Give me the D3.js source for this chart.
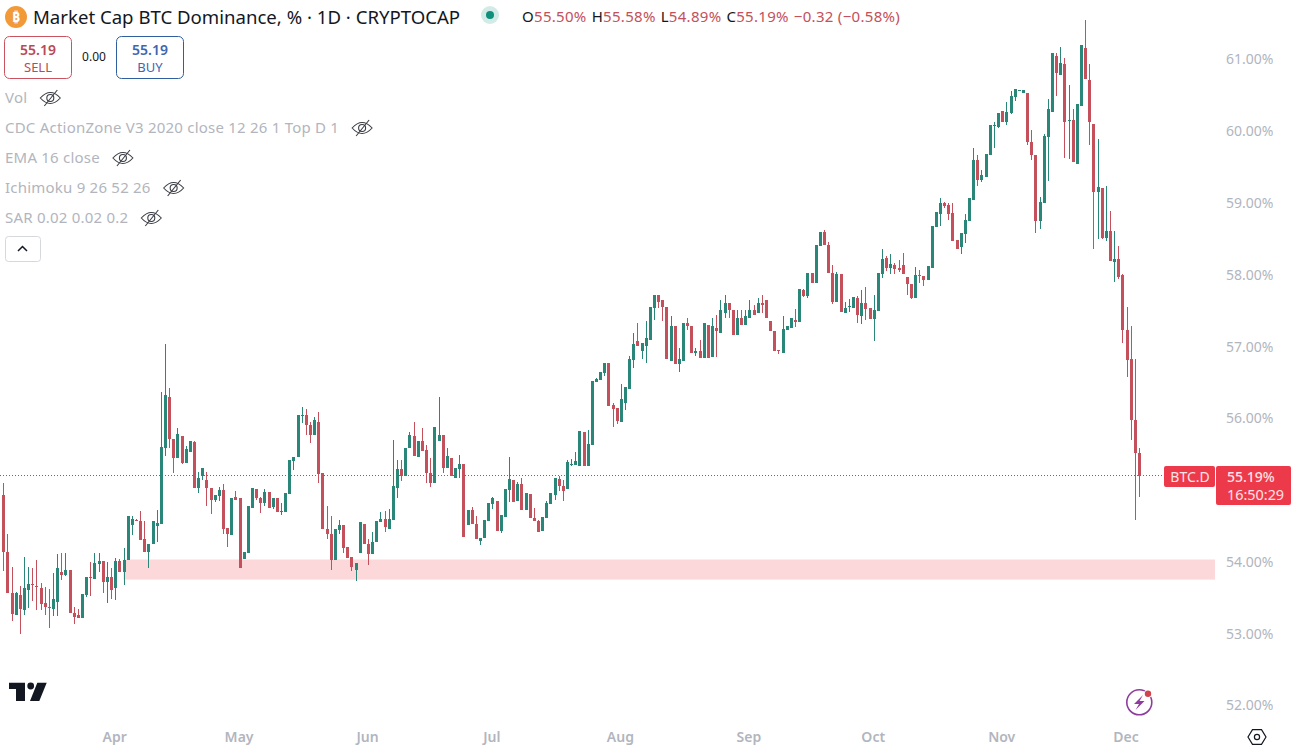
<!DOCTYPE html>
<html>
<head>
<meta charset="utf-8">
<script src="https://cdn.jsdelivr.net/npm/d3@7"></script>
<style>
  html, body { margin: 0; padding: 0; background: #fff; overflow: hidden; }
  svg { display: block; }
  text { font-family: "Noto Sans", "Open Sans", sans-serif; }
</style>
</head>
<body>
<svg width="1295" height="753"></svg>
<script>
const svg = d3.select("svg");

const symbolTitle = "Market Cap BTC Dominance, % · 1D · CRYPTOCAP";
const indicators = ["Vol", "CDC ActionZone V3 2020 close 12 26 1 Top D 1", "EMA 16 close", "Ichimoku 9 26 52 26", "SAR 0.02 0.02 0.2"];
const priceTicks = [52, 53, 54, 56, 57, 58, 59, 60, 61];
const firstDay = new Date(Date.UTC(2024, 2, 5));

const opens = [
  54.92,54.13,53.56,53.25,53.53,53.32,53.60,53.68,53.65,53.63,
  53.41,53.36,53.33,53.43,53.85,53.80,53.88,53.27,53.24,53.21,
  53.52,53.77,53.75,53.96,54.00,53.70,53.77,53.62,54.00,53.84,
  54.01,54.50,54.57,54.56,54.31,54.12,54.23,54.49,54.52,55.57,
  56.29,55.70,55.43,55.74,55.36,55.52,55.66,55.02,55.19,55.13,
  55.02,54.85,54.91,54.99,54.46,54.36,54.89,54.87,54.03,54.11,
  54.74,55.00,54.88,54.81,54.96,54.75,54.87,54.69,54.68,54.93,
  55.39,55.45,56.02,56.03,55.89,55.75,55.93,55.22,54.45,54.38,
  54.02,54.43,54.50,54.19,54.05,53.88,54.11,54.52,54.23,54.09,
  54.26,54.54,54.58,54.45,54.57,55.02,55.28,55.19,55.57,55.74,
  55.45,55.67,55.54,55.23,55.08,55.67,55.75,55.29,55.44,55.16,
  55.28,55.35,54.50,54.71,54.52,54.28,54.32,54.56,54.80,54.84,
  54.42,54.61,54.99,55.13,54.84,55.07,54.71,54.93,54.60,54.55,
  54.42,54.60,54.80,54.92,55.14,55.05,55.00,55.34,55.34,55.32,
  55.80,55.32,55.62,56.50,56.52,56.62,56.76,56.17,56.13,55.93,
  56.20,56.40,56.80,57.07,56.93,57.00,57.08,57.52,57.71,57.63,
  57.54,56.79,57.28,56.74,56.79,57.31,57.28,56.90,56.92,56.83,
  57.29,56.84,57.25,57.18,57.46,57.59,57.50,57.15,57.38,57.29,
  57.39,57.49,57.46,57.60,57.64,57.34,57.21,56.94,56.90,57.22,
  57.25,57.36,57.33,57.78,57.69,58.01,57.87,58.39,58.58,58.40,
  58.01,57.61,58.00,57.46,57.54,57.53,57.67,57.41,57.60,57.53,
  57.37,57.48,58.00,58.22,58.08,58.13,58.08,58.13,57.96,57.86,
  57.67,57.98,57.97,57.92,58.08,58.65,58.84,58.99,58.96,58.85,
  58.47,58.37,58.56,58.74,59.03,59.58,59.31,59.35,59.66,60.07,
  60.04,60.27,60.11,60.24,60.47,60.55,60.52,60.52,59.83,59.65,
  58.74,58.99,59.90,60.26,61.03,60.77,60.93,60.14,60.15,59.53,
  60.34,61.14,60.70,60.09,59.14,59.20,58.50,58.59,58.16,58.20,
  57.98,57.22,56.81,55.97,55.50
];
const highs = [
  55.08,54.38,53.91,53.57,53.65,54.05,53.91,53.90,54.02,53.69,
  53.64,53.61,53.83,54.10,54.11,54.11,53.88,53.36,53.33,53.54,
  53.77,53.99,54.11,54.11,54.00,53.98,53.90,54.04,54.03,54.18,
  54.62,54.63,54.58,54.69,54.55,54.24,54.56,54.71,56.36,57.02,
  56.41,55.70,55.85,55.74,55.60,55.67,55.67,55.24,55.30,55.24,
  55.02,54.92,55.03,55.07,54.46,54.88,54.98,54.87,54.13,54.77,
  55.02,55.00,54.89,55.00,54.96,54.87,54.87,54.81,54.95,55.41,
  55.45,56.04,56.14,56.11,55.94,56.00,56.08,55.22,54.76,54.63,
  54.44,54.57,54.50,54.19,54.05,53.97,54.54,54.52,54.30,54.40,
  54.56,54.68,54.70,54.72,55.69,55.40,55.40,55.58,55.79,55.94,
  55.67,55.85,55.62,55.43,55.86,56.29,55.76,55.58,55.44,55.30,
  55.47,55.35,54.71,54.75,54.62,54.32,54.57,54.81,54.89,54.84,
  54.64,55.00,55.45,55.13,55.10,55.16,54.95,54.93,54.74,54.57,
  54.61,54.84,54.95,55.16,55.19,55.13,55.41,55.42,55.52,55.81,
  55.80,55.83,56.51,56.55,56.63,56.76,56.76,56.20,56.13,56.47,
  56.43,56.86,57.18,57.32,57.04,57.34,57.54,57.71,57.71,57.63,
  57.54,57.41,57.28,56.96,57.32,57.39,57.28,56.97,57.08,57.31,
  57.29,57.38,57.43,57.63,57.71,57.59,57.50,57.49,57.49,57.49,
  57.64,57.56,57.66,57.70,57.64,57.34,57.21,56.94,57.41,57.28,
  57.39,57.51,57.79,57.79,58.01,58.01,58.40,58.58,58.61,58.45,
  58.13,58.03,58.00,57.61,57.65,57.68,57.69,57.78,57.82,57.53,
  57.71,58.01,58.35,58.25,58.28,58.15,58.19,58.29,57.96,57.86,
  58.09,58.06,57.97,58.11,58.67,58.86,59.05,59.00,58.99,58.98,
  58.47,58.57,58.84,59.05,59.76,59.66,59.44,59.67,60.08,60.12,
  60.24,60.27,60.40,60.55,60.58,60.56,60.56,60.52,60.01,59.65,
  59.07,59.95,60.43,61.07,61.08,61.16,61.01,60.63,60.29,60.37,
  61.19,61.54,60.93,60.09,59.88,59.20,59.23,58.88,58.59,58.39,
  58.00,57.54,57.28,56.81,55.58
];
const lows = [
  53.86,53.56,53.17,53.25,52.98,53.25,53.34,53.44,53.32,53.31,
  53.25,53.06,53.23,53.23,53.73,53.79,53.28,53.12,53.21,53.21,
  53.50,53.51,53.75,53.85,53.56,53.42,53.47,53.45,53.84,53.67,
  54.01,54.36,54.55,54.29,54.12,53.90,54.23,54.26,54.52,55.46,
  55.57,55.23,55.43,55.35,55.36,55.52,55.02,54.95,55.13,54.76,
  54.66,54.82,54.84,54.38,54.20,54.36,54.85,53.90,54.03,54.11,
  54.74,54.85,54.67,54.77,54.74,54.73,54.68,54.64,54.68,54.93,
  55.27,55.45,55.92,55.75,55.64,55.75,55.09,54.44,54.31,53.88,
  54.02,54.38,54.11,54.04,53.86,53.72,54.11,54.23,53.95,54.09,
  54.26,54.54,54.41,54.44,54.57,54.87,55.11,55.19,55.57,55.46,
  55.45,55.53,55.09,55.03,55.08,55.67,55.23,55.29,55.18,55.16,
  55.16,54.34,54.50,54.52,54.30,54.22,54.32,54.56,54.73,54.42,
  54.39,54.61,54.82,54.82,54.84,54.71,54.71,54.60,54.55,54.41,
  54.42,54.60,54.80,54.85,54.98,54.84,55.00,55.32,55.34,55.32,
  55.32,55.32,55.62,56.49,56.52,56.57,56.16,55.87,55.91,55.93,
  56.10,56.40,56.69,56.99,56.82,56.76,57.08,57.35,57.53,57.34,
  56.81,56.79,56.75,56.63,56.79,57.22,56.90,56.86,56.83,56.83,
  56.83,56.84,56.84,57.18,57.39,57.38,57.15,57.15,57.29,57.29,
  57.39,57.42,57.46,57.45,57.38,57.21,56.92,56.88,56.90,57.22,
  57.25,57.26,57.33,57.68,57.67,57.87,57.87,58.39,58.40,58.01,
  57.58,57.61,57.47,57.46,57.47,57.53,57.32,57.30,57.35,57.37,
  57.07,57.48,57.94,58.04,58.00,58.00,58.03,58.00,57.71,57.65,
  57.67,57.87,57.83,57.92,58.08,58.65,58.67,58.92,58.75,58.46,
  58.35,58.28,58.43,58.74,59.03,59.23,59.28,59.35,59.66,59.76,
  60.03,60.11,60.08,60.22,60.41,60.55,60.52,59.80,59.58,58.57,
  58.62,58.99,59.30,60.26,60.48,60.77,59.62,59.60,59.56,59.53,
  60.34,60.72,59.80,58.35,58.48,58.49,58.46,58.18,57.89,57.93,
  57.03,56.56,55.68,54.57,54.89
];
const closes = [
  54.13,53.56,53.26,53.56,53.33,53.63,53.68,53.67,53.64,53.40,
  53.36,53.34,53.47,53.90,53.81,53.88,53.28,53.22,53.21,53.54,
  53.77,53.76,53.97,54.00,53.70,53.77,53.59,54.00,53.84,54.02,
  54.62,54.58,54.56,54.29,54.12,54.24,54.56,54.53,55.59,56.31,
  55.70,55.44,55.77,55.37,55.56,55.67,55.02,55.16,55.30,55.01,
  54.85,54.92,54.99,54.45,54.38,54.88,54.85,53.90,54.13,54.77,
  55.02,54.87,54.81,54.96,54.74,54.87,54.68,54.70,54.95,55.41,
  55.45,56.04,56.03,55.89,55.75,55.96,55.21,54.44,54.37,54.02,
  54.44,54.50,54.18,54.04,53.91,53.97,54.54,54.23,54.09,54.27,
  54.55,54.58,54.47,54.59,55.04,55.28,55.18,55.58,55.76,55.46,
  55.67,55.53,55.22,55.08,55.86,55.76,55.30,55.46,55.18,55.30,
  55.35,54.34,54.71,54.52,54.30,54.32,54.57,54.81,54.88,54.42,
  54.64,55.00,55.14,54.82,55.07,54.71,54.95,54.60,54.55,54.41,
  54.61,54.81,54.95,55.16,55.05,54.98,55.38,55.35,55.39,55.81,
  55.32,55.63,56.51,56.54,56.63,56.76,56.16,56.12,55.95,56.25,
  56.42,56.81,57.02,57.00,57.04,57.11,57.54,57.71,57.61,57.54,
  56.81,57.28,56.75,56.82,57.32,57.27,56.90,56.93,56.83,57.31,
  56.83,57.27,57.20,57.49,57.59,57.49,57.15,57.38,57.29,57.41,
  57.49,57.43,57.60,57.57,57.38,57.21,56.92,56.93,57.23,57.28,
  57.39,57.33,57.79,57.69,58.01,57.87,58.40,58.58,58.40,58.01,
  57.61,58.00,57.47,57.53,57.55,57.68,57.43,57.60,57.51,57.37,
  57.50,58.01,58.21,58.08,58.14,58.07,58.06,58.00,57.86,57.67,
  57.99,57.97,57.92,58.11,58.67,58.86,58.99,58.95,58.84,58.46,
  58.35,58.57,58.75,59.05,59.58,59.31,59.37,59.67,60.08,60.08,
  60.24,60.11,60.26,60.48,60.57,60.56,60.56,59.84,59.66,58.74,
  59.00,59.92,60.30,61.07,60.80,60.94,60.12,60.15,59.56,60.37,
  61.19,60.72,60.12,59.14,59.21,58.50,58.59,58.18,58.21,57.96,
  57.22,56.80,55.97,55.51,55.19
];

const lastPrice = 55.19;
const zoneTop = 54.02;
const zoneBottom = 53.74;
const zoneStart = new Date(Date.UTC(2024, 3, 3));

const red = "#c4505b";
const green = "#2a8679";
const grey = "#b2b5be";

const candles = opens.map((o, i) => ({
  date: d3.utcDay.offset(firstDay, i),
  open: o,
  high: highs[i],
  low: lows[i],
  close: closes[i]
}));

const x = d3.scaleUtc()
  .domain([firstDay, candles[candles.length - 1].date])
  .range([3.3, 1139]);

const y = d3.scaleLinear()
  .domain([52, 61])
  .range([704.5, 58.5]);

// Support zone
svg.append("rect")
  .attr("x", x(zoneStart))
  .attr("y", y(zoneTop))
  .attr("width", 1215 - x(zoneStart))
  .attr("height", y(zoneBottom) - y(zoneTop))
  .attr("fill", "#fcd8db");

// Last price line
svg.append("line")
  .attr("x1", 0)
  .attr("x2", 1165)
  .attr("y1", y(lastPrice))
  .attr("y2", y(lastPrice))
  .attr("stroke", "#a8505a")
  .attr("stroke-width", 1)
  .attr("stroke-dasharray", "1 2");

// Candles
const candle = svg.append("g")
  .attr("class", "candles")
  .attr("shape-rendering", "crispEdges")
  .selectAll("g")
  .data(candles)
  .join("g")
  .attr("fill", d => d.close >= d.open ? green : red);

candle.append("rect")
  .attr("x", d => Math.round(x(d.date)))
  .attr("width", 1)
  .attr("y", d => y(d.high))
  .attr("height", d => y(d.low) - y(d.high));

candle.append("rect")
  .attr("x", d => Math.round(x(d.date)) - 1)
  .attr("width", 3)
  .attr("y", d => y(Math.max(d.open, d.close)))
  .attr("height", d => Math.max(1, Math.abs(y(d.open) - y(d.close))));

// Axes
const xAxis = svg.append("g")
  .attr("transform", "translate(-1,737)")
  .call(d3.axisBottom(x).ticks(d3.utcMonth.every(1)).tickFormat(d3.utcFormat("%b")).tickSize(0));
xAxis.select(".domain").remove();
xAxis.selectAll("text")
  .attr("y", 0)
  .attr("dy", "0.35em")
  .attr("font-size", 14)
  .attr("font-weight", 600)
  .attr("font-family", "Noto Sans")
  .attr("fill", grey);

const yAxis = svg.append("g")
  .attr("transform", "translate(1226,1)")
  .call(d3.axisRight(y).tickValues(priceTicks).tickFormat(d => d.toFixed(2) + "%").tickSize(0).tickPadding(0));
yAxis.select(".domain").remove();
yAxis.selectAll("text")
  .attr("font-size", 14)
  .attr("font-family", "Noto Sans")
  .attr("fill", grey);

// Price labels
svg.append("rect").attr("x", 1164).attr("y", 466).attr("width", 51).attr("height", 21).attr("rx", 2).attr("fill", "#ec3a4b");
svg.append("rect").attr("x", 1216).attr("y", 466).attr("width", 75).attr("height", 39).attr("rx", 2).attr("fill", "#ec3a4b");
svg.append("text").attr("x", 1190).attr("y", 482).attr("text-anchor", "middle").attr("font-size", 14).attr("fill", "#fde3e5").text("BTC.D");
svg.append("text").attr("x", 1227).attr("y", 482).attr("font-size", 14).attr("font-weight", 500).attr("fill", "#fde3e5").text(lastPrice.toFixed(2) + "%");
svg.append("text").attr("x", 1227).attr("y", 500).attr("font-size", 14.4).attr("fill", "#fde3e5").text("16:50:29");

// Header
svg.append("circle").attr("cx", 16).attr("cy", 17).attr("r", 11).attr("fill", "#f29a38");
svg.append("text").attr("x", 16).attr("y", 22).attr("text-anchor", "middle").attr("font-size", 14).attr("font-weight", 700).attr("fill", "#fff").attr("font-family", "DejaVu Sans").text("₿");
svg.append("text").attr("x", 33).attr("y", 24).attr("font-size", 18.6).attr("fill", "#131722").text(symbolTitle);

svg.append("circle").attr("cx", 490).attr("cy", 15).attr("r", 9).attr("fill", "#d3ebe6");
svg.append("circle").attr("cx", 490).attr("cy", 15).attr("r", 4).attr("fill", "#0f8f7c");

const ohlc = svg.append("text").attr("x", 522).attr("y", 22).attr("font-size", 15).attr("letter-spacing", 0.3).attr("fill", red);
[["O", "55.50%"], ["H", "55.58%"], ["L", "54.89%"], ["C", "55.19%"]].forEach(([k, v], i) => {
  ohlc.append("tspan").attr("fill", "#131722").attr("dx", i ? 5 : 0).text(k);
  ohlc.append("tspan").text(v);
});
ohlc.append("tspan").attr("dx", 5).text("−0.32 (−0.58%)");

// Sell / buy boxes
const sides = [
  { px: 4, label: "SELL", stroke: "#c9535f", fill: "#b84a55" },
  { px: 116, label: "BUY", stroke: "#2f5f9e", fill: "#3f66b0" }
];
const side = svg.append("g").selectAll("g").data(sides).join("g");
side.append("rect")
  .attr("x", d => d.px + 0.5).attr("y", 36.5).attr("width", 67).attr("height", 42).attr("rx", 5)
  .attr("fill", "#fff").attr("stroke", d => d.stroke);
side.append("text")
  .attr("x", d => d.px + 34).attr("y", 55).attr("text-anchor", "middle")
  .attr("font-size", 14).attr("font-weight", 600).attr("fill", d => d.fill).text(lastPrice.toFixed(2));
side.append("text")
  .attr("x", d => d.px + 34).attr("y", 72).attr("text-anchor", "middle")
  .attr("font-size", 13).attr("fill", d => d.fill).text(d => d.label);
svg.append("text").attr("x", 94).attr("y", 61).attr("text-anchor", "middle").attr("font-size", 12).attr("fill", "#131722").text("0.00");

// Indicator list with hidden-eye icons
const indicatorRow = svg.append("g").selectAll("g").data(indicators).join("g")
  .attr("transform", (d, i) => `translate(5,${98 + i * 30})`);
indicatorRow.append("text").attr("y", 5).attr("font-size", 15).attr("letter-spacing", 0.22).attr("fill", grey).text(d => d);
indicatorRow.each(function() {
  const row = d3.select(this);
  const cx = row.select("text").node().getComputedTextLength() + 23;
  const eye = row.append("g").attr("transform", `translate(${cx},0)`).attr("fill", "none").attr("stroke", "#3a3d45").attr("stroke-width", 1.1);
  eye.append("path").attr("d", "M-10,0 Q0,-11 10,0 Q0,11 -10,0Z");
  eye.append("circle").attr("r", 3.5);
  eye.append("path").attr("d", "M-6,8 L7,-8");
});

// Collapse button
svg.append("rect").attr("x", 5.5).attr("y", 236.5).attr("width", 35).attr("height", 25).attr("rx", 3).attr("fill", "#fff").attr("stroke", "#d6d8de");
svg.append("path").attr("d", "M18,251 L22.5,246.5 L27,251").attr("fill", "none").attr("stroke", "#131722").attr("stroke-width", 1.5);

// TradingView logo
svg.append("path").attr("fill", "#131722").attr("d", "M9,682.7H25V701H16V689H9Z");
svg.append("circle").attr("cx", 30.7).attr("cy", 686).attr("r", 3.4).attr("fill", "#131722");
svg.append("path").attr("fill", "#131722").attr("d", "M37.3,682.7H46.7L39.3,701H30Z");

// Bolt icon
svg.append("circle").attr("cx", 1139.3).attr("cy", 702.3).attr("r", 12.5).attr("fill", "none").attr("stroke", "#8e3a9e").attr("stroke-width", 1.6);
svg.append("path").attr("fill", "#8e3a9e").attr("d", "M1143,695 L1134,704 H1139 L1135.5,710 L1144.5,701 H1139.5Z");
svg.append("circle").attr("cx", 1148).attr("cy", 693.7).attr("r", 4.3).attr("fill", "#fff");
svg.append("circle").attr("cx", 1148).attr("cy", 693.7).attr("r", 3.2).attr("fill", "#d1444f");

// Settings hexagon
const hex = d3.range(6).map(i => {
  const a = i * Math.PI / 3;
  return [1257 + 9 * Math.cos(a), 737 + 8.5 * Math.sin(a)];
});
svg.append("path").attr("d", "M" + hex.join("L") + "Z").attr("fill", "none").attr("stroke", "#131722").attr("stroke-width", 1.2);
svg.append("circle").attr("cx", 1257).attr("cy", 737).attr("r", 2.6).attr("fill", "none").attr("stroke", "#131722").attr("stroke-width", 1.2);
</script>
</body>
</html>
